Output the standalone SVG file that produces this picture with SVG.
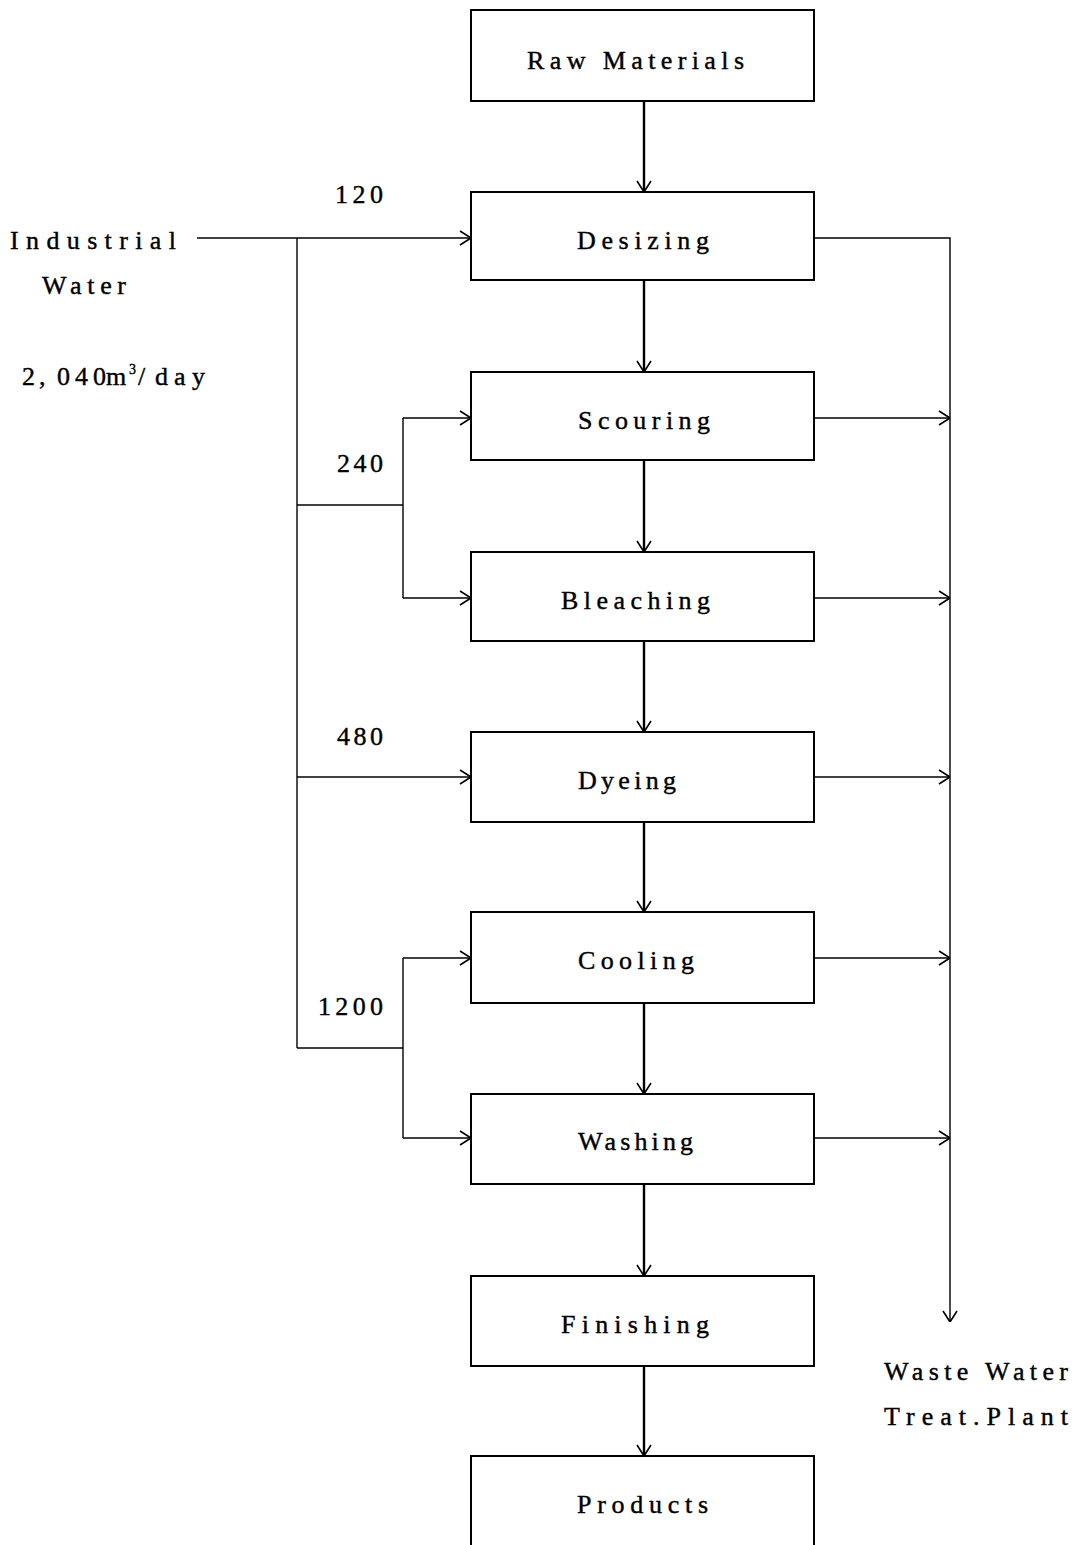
<svg xmlns="http://www.w3.org/2000/svg" width="1078" height="1545" viewBox="0 0 1078 1545">
<style>
.box{fill:#fff;stroke:#000;stroke-width:2}
.t{font-family:"Liberation Serif","DejaVu Serif",serif;font-size:26px;fill:#000;stroke:#000;stroke-width:0.4}
.ln{fill:none;stroke:#000;stroke-width:1.4}
.main{fill:none;stroke:#000;stroke-width:2.4}
</style>
<defs>
<marker id="ah" viewBox="0 0 12 16" refX="12" refY="8" markerWidth="12" markerHeight="16" markerUnits="userSpaceOnUse" orient="auto">
<path d="M1,1 L12,8 L1,15" fill="none" stroke="#000" stroke-width="1.6"/>
</marker>
</defs>
<rect width="1078" height="1545" fill="#fff"/>
<g id="connectors">
<path class="main" d="M644,101 V192" marker-end="url(#ah)"/>
<path class="main" d="M644,280 V372" marker-end="url(#ah)"/>
<path class="main" d="M644,460 V552" marker-end="url(#ah)"/>
<path class="main" d="M644,641 V732" marker-end="url(#ah)"/>
<path class="main" d="M644,822 V912" marker-end="url(#ah)"/>
<path class="main" d="M644,1003 V1094" marker-end="url(#ah)"/>
<path class="main" d="M644,1184 V1276" marker-end="url(#ah)"/>
<path class="main" d="M644,1366 V1456" marker-end="url(#ah)"/>
<path class="ln" d="M197,238 H471" marker-end="url(#ah)"/>
<path class="ln" d="M297,238 V1048"/>
<path class="ln" d="M297,505 H403"/>
<path class="ln" d="M403,418 V598"/>
<path class="ln" d="M403,418 H471" marker-end="url(#ah)"/>
<path class="ln" d="M403,598 H471" marker-end="url(#ah)"/>
<path class="ln" d="M297,777 H471" marker-end="url(#ah)"/>
<path class="ln" d="M297,1048 H403"/>
<path class="ln" d="M403,958 V1138"/>
<path class="ln" d="M403,958 H471" marker-end="url(#ah)"/>
<path class="ln" d="M403,1138 H471" marker-end="url(#ah)"/>
<path class="ln" d="M814,238 H950 V1322" marker-end="url(#ah)"/>
<path class="ln" d="M814,418 H950" marker-end="url(#ah)"/>
<path class="ln" d="M814,598 H950" marker-end="url(#ah)"/>
<path class="ln" d="M814,777 H950" marker-end="url(#ah)"/>
<path class="ln" d="M814,958 H950" marker-end="url(#ah)"/>
<path class="ln" d="M814,1138 H950" marker-end="url(#ah)"/>
</g>
<g id="raw"><rect class="box" x="471" y="10" width="343" height="91"/><text class="t" x="527" y="69" textLength="217" lengthAdjust="spacing">Raw Materials</text></g>
<g id="desizing"><rect class="box" x="471" y="192" width="343" height="88"/><text class="t" x="577" y="249" textLength="132" lengthAdjust="spacing">Desizing</text></g>
<g id="scouring"><rect class="box" x="471" y="372" width="343" height="88"/><text class="t" x="578" y="429" textLength="132" lengthAdjust="spacing">Scouring</text></g>
<g id="bleaching"><rect class="box" x="471" y="552" width="343" height="89"/><text class="t" x="561" y="609" textLength="149" lengthAdjust="spacing">Bleaching</text></g>
<g id="dyeing"><rect class="box" x="471" y="732" width="343" height="90"/><text class="t" x="578" y="789" textLength="98" lengthAdjust="spacing">Dyeing</text></g>
<g id="cooling"><rect class="box" x="471" y="912" width="343" height="91"/><text class="t" x="578" y="969" textLength="116" lengthAdjust="spacing">Cooling</text></g>
<g id="washing"><rect class="box" x="471" y="1094" width="343" height="90"/><text class="t" x="578" y="1150" textLength="115" lengthAdjust="spacing">Washing</text></g>
<g id="finishing"><rect class="box" x="471" y="1276" width="343" height="90"/><text class="t" x="561" y="1333" textLength="148" lengthAdjust="spacing">Finishing</text></g>
<g id="products"><rect class="box" x="471" y="1456" width="343" height="100"/><text class="t" x="577" y="1513" textLength="131" lengthAdjust="spacing">Products</text></g>
<g id="labels">
<text class="t" x="10" y="249" textLength="166" lengthAdjust="spacing">Industrial</text>
<text class="t" x="42" y="294" textLength="84" lengthAdjust="spacing">Water</text>
<text class="t" y="385"><tspan x="22 39 57 75 93 106">2,040m</tspan><tspan x="129" y="374" font-size="14">3</tspan><tspan x="138 155 174 192" y="385">/day</tspan></text>
<text class="t" x="335" y="203" textLength="48" lengthAdjust="spacing">120</text>
<text class="t" x="337" y="472" textLength="46" lengthAdjust="spacing">240</text>
<text class="t" x="337" y="745" textLength="46" lengthAdjust="spacing">480</text>
<text class="t" x="318" y="1015" textLength="65" lengthAdjust="spacing">1200</text>
<text class="t" x="884" y="1380" textLength="184" lengthAdjust="spacing">Waste Water</text>
<text class="t" x="884" y="1425" textLength="184" lengthAdjust="spacing">Treat.Plant</text>
</g>
</svg>
